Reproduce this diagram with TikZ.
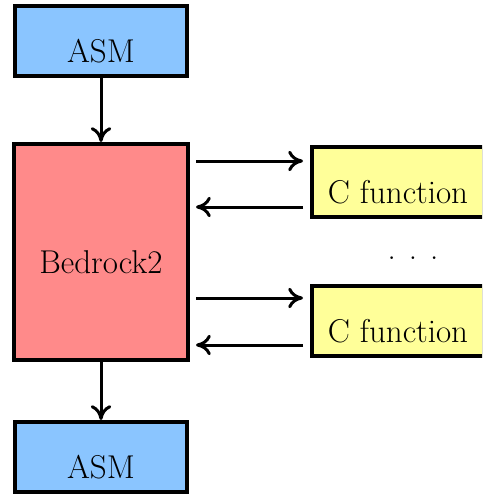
\documentclass[tikz,border=0pt]{standalone}
\usepackage{xcolor}
\usepackage{tikz}
\usetikzlibrary{arrows.meta,positioning}
\definecolor{asmblue}{RGB}{138, 197, 255}
\definecolor{bedred}{RGB}{255, 138, 138}
\definecolor{fnyellow}{RGB}{255, 255, 153}
\tikzset{
 codebox/.style={
 rectangle,
 draw=black,
 line width=2pt,
 minimum width=86pt,
 minimum height=35pt,
 text height=21pt,
 text depth=0pt,
 font=\fontsize{16.5}{19}\selectfont
 },
 asmbox/.style={codebox, fill=asmblue},
 bedbox/.style={codebox, fill=bedred, minimum width=87pt, minimum height=108pt},
 fnbox/.style={codebox, fill=fnyellow},
 callarrow/.style={-{To[length=2.6mm, width=3.6mm]}, line width=1.5pt, draw=black}
}

\begin{document}
\begin{tikzpicture}
 \clip (0pt,0pt) rectangle (241pt,-249pt);
 \useasboundingbox (0pt,0pt) rectangle (241pt,-249pt);

 \node[bedbox] (bedrock) at (50.5pt,-126pt) {Bedrock2};
 \node[asmbox, above=32pt of bedrock] (asmin) {ASM};
 \node[asmbox, below=29pt of bedrock] (asmout) {ASM};
 \node[fnbox, below right=1.5pt and 60pt of bedrock.north east] (fnfirst) {C function};
 \node[fnbox, above right=2pt and 60pt of bedrock.south east] (fnlast) {C function};
 \node[font=\fontsize{16.5}{19}\selectfont] (dots) at (206.5pt,-129pt)
 {.\hspace{6.5pt}.\hspace{6.5pt}.};

 \draw[callarrow] (asmin) -- (bedrock);
 \draw[callarrow] (bedrock) -- (asmout);

 % calls into the C functions and back
 \draw[callarrow, shorten <=3pt, shorten >=3.5pt]
 ([yshift=-8pt]fnfirst.north -| bedrock.east) -- ([yshift=-8pt]fnfirst.north west);
 \draw[callarrow, shorten <=3.5pt, shorten >=3pt]
 ([yshift=6pt]fnfirst.south west) -- ([yshift=6pt]fnfirst.south -| bedrock.east);
 \draw[callarrow, shorten <=3pt, shorten >=3.5pt]
 ([yshift=-7pt]fnlast.north -| bedrock.east) -- ([yshift=-7pt]fnlast.north west);
 \draw[callarrow, shorten <=3.5pt, shorten >=3pt]
 ([yshift=6.5pt]fnlast.south west) -- ([yshift=6.5pt]fnlast.south -| bedrock.east);
\end{tikzpicture}
\end{document}
